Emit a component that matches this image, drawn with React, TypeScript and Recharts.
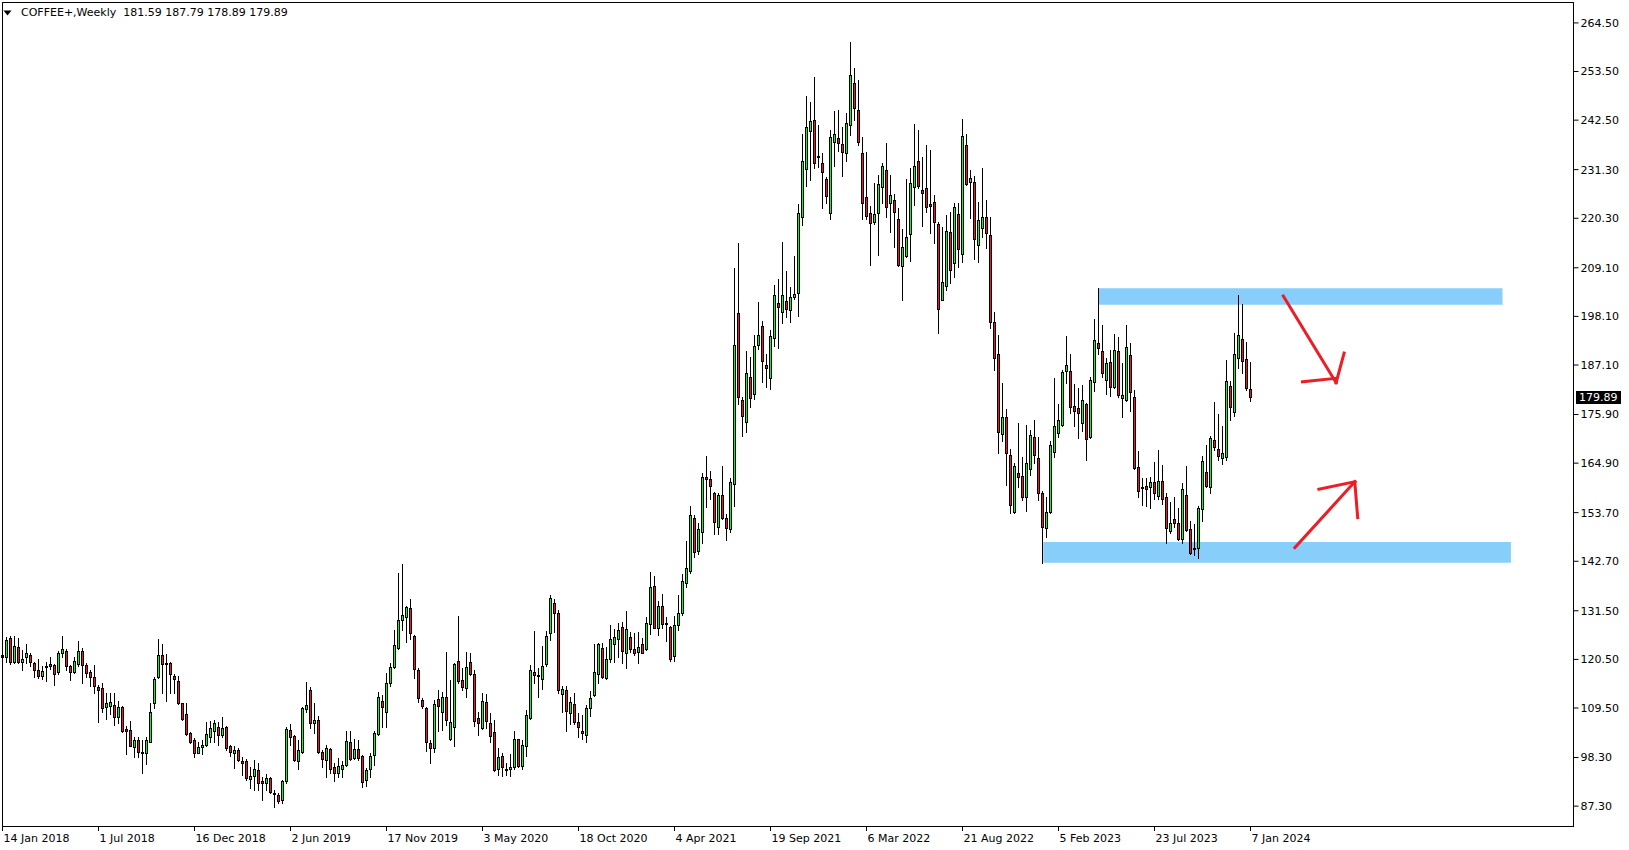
import { ComposedChart, Bar, XAxis, YAxis, ReferenceArea, ReferenceLine } from 'recharts'

const FONT = '"DejaVu Sans", Tahoma, sans-serif'
const GREEN = '#2ee82e'
const RED = '#ec1a1a'

// weekly candles, first one = week of 14 Jan 2018
const opens = [
  121.5, 121.0, 125.3, 120.0, 123.2, 120.0, 121.1, 121.5, 119.6, 118.1,
  116.8, 118.8, 119.4, 119.2, 117.7, 121.9, 122.5, 118.9, 117.7, 119.4,
  122.4, 119.2, 117.6, 116.6, 114.3, 114.0, 109.7, 110.0, 110.2, 107.4,
  109.8, 104.8, 104.6, 100.6, 102.3, 99.6, 99.3, 101.9, 110.6, 116.6,
  121.4, 119.6, 119.6, 116.8, 115.6, 110.6, 108.1, 103.8, 102.3, 99.4,
  100.6, 101.1, 102.9, 104.4, 105.1, 103.3, 105.3, 101.0, 99.4, 100.0,
  97.5, 97.4, 93.4, 94.2, 95.5, 92.9, 92.5, 93.6, 90.2, 89.8,
  88.6, 93.0, 104.5, 103.2, 97.4, 99.6, 109.3, 113.6, 106.2, 106.8,
  99.5, 97.8, 100.2, 96.1, 94.7, 95.6, 96.6, 101.9, 98.1, 100.2,
  98.7, 93.2, 95.6, 98.9, 103.6, 111.1, 108.5, 115.1, 118.7, 123.0,
  129.4, 130.0, 132.1, 125.8, 118.2, 111.3, 109.6, 101.6, 100.4, 111.5,
  108.5, 111.9, 102.5, 105.3, 120.2, 115.8, 114.0, 119.8, 117.3, 107.2,
  104.9, 110.9, 106.2, 104.1, 95.6, 98.7, 95.8, 95.6, 96.1, 102.4,
  96.4, 101.0, 107.3, 117.7, 117.0, 116.1, 119.4, 126.4, 133.2, 131.1,
  112.7, 113.6, 108.3, 110.5, 106.3, 104.3, 103.5, 109.4, 112.4, 117.3,
  123.0, 116.4, 120.5, 123.9, 125.1, 127.9, 121.9, 125.5, 122.8, 122.2,
  124.0, 122.8, 128.5, 137.2, 127.7, 132.6, 128.8, 127.9, 121.3, 128.3,
  130.9, 137.7, 140.6, 152.4, 145.0, 149.3, 161.7, 161.4, 158.1, 150.5,
  157.8, 152.6, 150.0, 160.1, 198.8, 179.2, 174.3, 184.5, 180.5, 191.6,
  195.9, 187.1, 184.2, 193.1, 201.1, 199.0, 201.6, 199.5, 202.6, 203.3,
  220.5, 231.4, 240.1, 242.5, 234.4, 232.7, 229.1, 221.6, 237.6, 238.4,
  237.0, 235.1, 241.3, 250.8, 244.9, 235.0, 225.0, 221.6, 219.5, 221.4,
  227.3, 231.2, 223.7, 224.4, 220.1, 209.6, 211.8, 216.7, 227.4, 233.3,
  226.7, 227.1, 223.5, 223.9, 219.0, 201.8, 205.0, 217.1, 210.1, 221.2,
  212.2, 236.9, 228.4, 228.4, 214.2, 218.0, 220.5, 216.5, 196.9, 189.7,
  171.5, 175.3, 166.7, 153.9, 162.6, 162.0, 157.2, 163.5, 170.9, 166.0,
  158.1, 150.2, 153.9, 167.5, 171.8, 173.5, 185.8, 185.8, 177.8, 177.3,
  174.0, 178.2, 170.9, 183.3, 192.0, 190.2, 183.7, 187.7, 182.2, 190.2,
  179.7, 179.2, 189.4, 179.8, 164.1, 159.6, 159.7, 159.6, 160.6, 157.5,
  160.9, 157.2, 149.6, 152.2, 151.3, 147.7, 157.8, 149.9, 145.8, 145.6,
  154.5, 162.8, 159.4, 170.1, 168.2, 166.0, 166.2, 182.4, 176.4, 188.6,
  192.9, 188.4, 181.59,
]

const highs = [
  123.8, 125.5, 125.7, 125.8, 125.3, 122.6, 124.0, 121.9, 120.0, 120.6,
  118.9, 120.0, 121.0, 119.4, 122.3, 125.8, 122.8, 119.2, 121.1, 124.7,
  123.0, 119.6, 118.1, 119.2, 114.7, 115.2, 112.8, 113.0, 113.0, 111.0,
  110.0, 105.4, 106.6, 103.0, 103.0, 102.3, 103.0, 110.6, 116.6, 125.1,
  123.9, 121.7, 119.8, 117.1, 116.8, 110.6, 110.6, 104.0, 102.7, 101.9,
  102.3, 106.4, 106.6, 106.8, 106.4, 107.4, 105.4, 101.1, 100.8, 100.4,
  98.5, 97.9, 96.1, 97.8, 97.0, 94.0, 94.6, 93.8, 91.0, 90.2,
  93.2, 105.1, 105.8, 103.4, 102.3, 109.8, 115.3, 114.3, 110.6, 107.7,
  100.0, 101.1, 100.4, 97.0, 98.1, 97.4, 104.2, 104.2, 102.4, 102.3,
  98.9, 95.9, 99.3, 104.2, 113.2, 112.5, 117.4, 119.6, 127.2, 140.0,
  142.1, 132.6, 134.1, 126.1, 118.5, 111.7, 109.8, 102.3, 111.3, 113.6,
  113.2, 122.2, 115.8, 119.7, 130.3, 118.5, 122.2, 121.9, 118.1, 108.7,
  112.8, 112.7, 108.3, 106.8, 100.4, 99.4, 97.1, 99.2, 104.3, 102.6,
  102.3, 109.0, 119.2, 127.0, 118.5, 123.5, 127.0, 135.1, 134.1, 131.7,
  114.5, 114.5, 112.1, 113.0, 108.3, 107.9, 110.2, 113.3, 124.0, 124.3,
  124.1, 123.4, 128.3, 127.3, 128.8, 129.0, 131.4, 126.8, 126.4, 126.8,
  125.3, 130.0, 140.2, 139.4, 133.8, 135.3, 130.2, 128.0, 130.3, 135.1,
  139.8, 147.3, 155.2, 153.2, 151.3, 162.6, 166.5, 163.2, 158.4, 158.1,
  164.3, 153.3, 161.6, 209.0, 214.8, 179.9, 190.3, 189.0, 193.9, 201.4,
  197.1, 189.6, 195.0, 205.2, 206.6, 214.9, 208.4, 204.8, 211.8, 223.5,
  239.4, 248.0, 246.7, 252.3, 241.4, 235.1, 229.7, 240.3, 244.6, 244.8,
  241.0, 244.2, 260.1, 254.4, 251.6, 238.6, 235.2, 223.1, 228.2, 230.1,
  232.7, 237.4, 230.1, 225.9, 222.7, 217.8, 229.1, 231.6, 241.6, 240.3,
  234.2, 236.9, 235.7, 225.6, 219.5, 218.4, 221.0, 221.8, 223.7, 223.7,
  242.8, 239.4, 231.2, 229.9, 224.0, 231.6, 224.5, 220.7, 199.2, 193.9,
  183.0, 177.1, 168.0, 165.0, 173.9, 166.2, 173.5, 172.4, 174.7, 170.9,
  158.7, 157.3, 170.0, 184.1, 178.3, 186.0, 193.7, 189.6, 182.9, 181.8,
  182.6, 178.4, 184.5, 197.6, 204.5, 196.2, 188.8, 190.5, 194.1, 193.5,
  187.5, 196.1, 192.0, 181.4, 167.6, 161.5, 161.5, 161.7, 165.2, 167.9,
  164.5, 158.1, 156.0, 157.3, 154.7, 160.3, 164.3, 151.9, 151.1, 155.2,
  166.5, 168.9, 171.1, 178.8, 176.0, 173.2, 188.2, 183.4, 194.3, 202.9,
  200.9, 192.4, 187.79,
]

const lows = [
  119.0, 120.0, 119.5, 119.6, 119.6, 118.1, 119.6, 119.0, 116.6, 116.2,
  116.1, 115.5, 118.3, 114.7, 117.1, 121.1, 118.0, 115.9, 117.5, 119.0,
  115.2, 116.6, 114.5, 113.0, 106.4, 108.5, 107.0, 108.2, 105.7, 106.0,
  104.0, 99.0, 100.8, 98.4, 98.5, 94.7, 96.8, 101.7, 109.4, 116.2,
  112.8, 111.0, 112.8, 112.8, 110.4, 106.8, 103.4, 101.5, 98.4, 99.3,
  99.0, 100.9, 101.9, 101.9, 101.1, 102.9, 100.0, 98.7, 95.9, 97.6,
  94.4, 93.2, 91.3, 91.0, 91.0, 88.7, 91.0, 90.2, 87.2, 88.1,
  88.0, 92.6, 101.1, 97.4, 95.6, 99.3, 108.7, 104.9, 103.9, 99.3,
  96.1, 94.0, 94.7, 92.9, 94.0, 93.8, 96.4, 97.8, 97.9, 97.8,
  91.7, 91.9, 94.0, 96.6, 103.4, 105.3, 105.3, 114.5, 118.5, 122.8,
  127.2, 124.5, 125.1, 116.2, 110.9, 109.4, 99.8, 97.0, 99.6, 104.4,
  104.5, 105.6, 102.3, 100.9, 115.2, 113.6, 112.1, 117.0, 105.4, 103.4,
  104.7, 104.9, 101.9, 95.3, 94.3, 94.1, 94.3, 94.1, 95.8, 96.1,
  95.8, 98.6, 107.0, 115.2, 111.9, 113.7, 119.0, 125.0, 126.8, 113.0,
  108.7, 104.4, 105.8, 105.9, 102.9, 102.6, 101.7, 107.7, 112.2, 115.2,
  116.4, 116.0, 120.0, 120.0, 121.1, 119.7, 118.5, 122.2, 121.5, 119.7,
  121.9, 122.6, 126.2, 127.5, 126.0, 127.7, 124.7, 120.2, 120.2, 127.1,
  130.5, 136.8, 140.0, 143.6, 144.3, 146.9, 154.9, 156.9, 148.8, 148.8,
  152.2, 147.4, 149.4, 155.3, 178.3, 171.1, 171.9, 177.7, 179.4, 190.7,
  183.3, 182.2, 181.6, 191.5, 190.9, 196.5, 198.0, 196.9, 202.0, 198.3,
  218.8, 227.7, 229.0, 231.6, 231.8, 222.7, 223.8, 220.1, 232.1, 235.6,
  229.9, 233.3, 239.1, 242.5, 236.9, 220.1, 220.1, 209.7, 219.0, 212.0,
  223.8, 220.7, 217.3, 213.9, 209.6, 201.8, 211.5, 210.7, 223.3, 227.1,
  218.5, 221.8, 216.9, 214.8, 194.3, 201.7, 204.1, 205.6, 207.1, 209.2,
  210.5, 227.8, 220.3, 211.0, 210.5, 216.0, 213.5, 195.4, 186.0, 167.3,
  169.8, 159.9, 153.7, 153.7, 159.6, 156.6, 154.1, 162.2, 164.9, 156.6,
  142.4, 148.1, 153.7, 166.4, 170.9, 173.3, 183.0, 176.3, 173.3, 170.7,
  172.2, 165.7, 170.7, 181.3, 189.6, 184.3, 180.5, 180.1, 181.8, 179.9,
  175.3, 179.0, 176.8, 163.5, 157.3, 155.4, 155.1, 154.7, 156.7, 156.9,
  155.7, 146.8, 149.2, 150.5, 147.5, 146.9, 149.6, 144.3, 144.1, 143.4,
  151.7, 159.6, 158.2, 167.9, 165.5, 164.7, 165.5, 174.7, 175.6, 186.5,
  185.2, 181.4, 178.89,
]

const closes = [
  121.0, 125.0, 119.8, 123.5, 119.8, 120.6, 121.9, 120.0, 118.0, 116.8,
  117.9, 119.1, 119.1, 117.1, 121.9, 122.8, 118.9, 117.7, 120.2, 122.4,
  119.2, 117.4, 116.6, 114.5, 113.6, 109.6, 110.6, 110.8, 107.4, 109.8,
  104.2, 104.4, 101.0, 102.3, 99.6, 99.4, 102.3, 108.7, 116.1, 121.4,
  119.4, 119.4, 117.1, 116.0, 110.6, 107.0, 103.6, 101.7, 99.3, 100.6,
  101.1, 103.6, 104.9, 106.0, 103.3, 104.9, 100.5, 99.6, 100.0, 97.8,
  97.1, 93.6, 94.1, 95.7, 92.5, 92.5, 93.6, 90.4, 90.0, 88.5,
  93.0, 104.7, 103.0, 97.8, 100.0, 109.6, 110.2, 106.2, 106.8, 99.5,
  98.0, 100.4, 95.7, 94.7, 96.4, 96.6, 102.1, 97.9, 100.2, 98.1,
  92.8, 95.5, 98.7, 103.8, 112.1, 109.8, 115.1, 118.7, 123.8, 129.4,
  130.6, 132.4, 126.4, 118.3, 111.7, 110.0, 101.9, 100.4, 110.5, 110.0,
  111.9, 106.8, 106.3, 119.4, 115.7, 114.2, 118.8, 117.1, 106.6, 106.0,
  111.1, 106.6, 103.2, 95.5, 98.5, 96.2, 95.6, 96.2, 102.6, 96.4,
  101.1, 107.9, 118.2, 117.0, 116.7, 119.1, 125.9, 134.3, 130.9, 113.6,
  113.9, 108.9, 110.8, 106.4, 105.1, 103.9, 109.4, 111.7, 117.6, 123.9,
  116.6, 120.7, 125.1, 125.6, 127.1, 122.5, 127.3, 122.8, 122.0, 123.4,
  122.0, 128.8, 136.9, 127.7, 132.6, 128.4, 128.5, 120.5, 128.3, 131.1,
  138.3, 141.1, 153.2, 144.7, 149.9, 161.7, 161.2, 159.7, 151.5, 157.7,
  152.6, 150.2, 160.7, 191.6, 179.9, 175.6, 185.4, 179.7, 191.4, 194.0,
  187.9, 186.4, 193.7, 202.9, 200.3, 202.9, 199.7, 202.6, 203.2, 221.4,
  233.2, 240.9, 242.2, 232.7, 234.1, 230.8, 225.4, 238.6, 239.3, 237.3,
  235.4, 241.8, 252.7, 245.2, 237.6, 223.8, 220.9, 219.2, 221.2, 228.0,
  232.1, 222.9, 225.6, 221.8, 209.7, 213.7, 216.1, 228.2, 232.1, 227.6,
  226.1, 222.9, 223.1, 219.5, 199.7, 205.8, 217.4, 208.7, 222.9, 213.3,
  238.9, 228.0, 229.3, 215.5, 219.9, 220.7, 216.9, 196.9, 188.6, 172.0,
  175.3, 167.1, 155.4, 164.2, 161.7, 157.3, 164.9, 171.3, 166.7, 158.1,
  150.4, 153.8, 169.0, 173.3, 174.6, 185.6, 187.1, 177.7, 176.8, 176.3,
  179.2, 170.3, 183.8, 192.8, 191.0, 185.4, 187.5, 182.1, 190.5, 180.3,
  180.3, 191.1, 180.9, 163.7, 158.7, 159.3, 159.1, 160.6, 158.1, 160.9,
  156.7, 150.2, 151.4, 151.3, 147.7, 159.0, 149.8, 144.6, 145.4, 154.7,
  165.4, 159.8, 170.5, 168.6, 166.6, 167.3, 183.5, 177.5, 189.5, 193.9,
  187.9, 181.8, 179.89,
]

const dateTickWeeks = [0, 24, 48, 72, 96, 120, 144, 168, 192, 216, 240, 264, 288, 312]
const dateTickLabels = [
  '14 Jan 2018', '1 Jul 2018', '16 Dec 2018', '2 Jun 2019', '17 Nov 2019', '3 May 2020', '18 Oct 2020',
  '4 Apr 2021', '19 Sep 2021', '6 Mar 2022', '21 Aug 2022', '5 Feb 2023', '23 Jul 2023', '7 Jan 2024',
]
const priceTicks = [264.5, 253.5, 242.5, 231.3, 220.3, 209.1, 198.1, 187.1, 175.9, 164.9, 153.7, 142.7, 131.5, 120.5, 109.5, 98.3, 87.3]

const symbolName = 'COFFEE+,Weekly'

// supply / demand zones (week index, price)
const zoneFrom = [274, 260.2]
const zoneTo = [375, 377.1]
const zoneBottom = [200.74, 142.37]
const zoneTop = [204.45, 147.06]

// hand drawn arrows, one stroke per entry: [week1, price1, week2, price2]
const arrowStrokes = [
  [320.2, 202.7, 333.4, 183.1],
  [325.0, 183.3, 333.4, 184.1],
  [333.4, 183.1, 335.4, 189.8],
  [323.1, 145.8, 338.1, 160.7],
  [329.1, 159.0, 338.1, 160.7],
  [338.1, 160.3, 338.8, 152.6],
]

const candles = opens.map((o, i) => ({
  i,
  o,
  h: highs[i],
  l: lows[i],
  c: closes[i],
  range: [lows[i], highs[i]],
}))

const last = candles[candles.length - 1]

const Candle = (props: any) => {
  const { x, y, width, height } = props
  const d = props.payload ?? props
  if (d == null || y == null || height == null) return null
  const top = Math.min(y, y + height)
  const span = Math.abs(height)
  const hl = d.h - d.l
  const py = (v: number) => (hl > 0 ? top + ((d.h - v) / hl) * span : top)
  const col = Math.floor(x + width / 2)
  const bt = Math.round(py(Math.max(d.o, d.c)))
  const bb = Math.round(py(Math.min(d.o, d.c)))
  return (
    <g shapeRendering="crispEdges">
      <line x1={col + 0.5} x2={col + 0.5} y1={Math.round(py(d.h))} y2={Math.round(py(d.l)) + 1} stroke="#000" strokeWidth={1} />
      <rect
        x={col - 0.5}
        y={bt + 0.5}
        width={2}
        height={Math.max(bb - bt, 1)}
        fill={d.c >= d.o ? GREEN : RED}
        stroke="#000"
        strokeWidth={1}
      />
    </g>
  )
}

const DateTick = ({ x, y, payload }: any) => (
  <text x={x + 1} y={y} dy="0.71em" textAnchor="start" fontSize={11} fontFamily={FONT} fill="#000">
    {dateTickLabels[dateTickWeeks.indexOf(payload.value)]}
  </text>
)

const PriceTag = ({ viewBox }: any) => {
  if (!viewBox) return null
  const left = viewBox.x + viewBox.width + 2.5
  const cy = Math.round(viewBox.y)
  return (
    <g>
      <rect x={left} y={cy - 6} width={45} height={13} fill="#000" />
      <text x={left + 3} y={cy + 4} fill="#fff" fontSize={11} fontFamily={FONT}>
        {last.c.toFixed(2)}
      </text>
    </g>
  )
}

export default function App() {
  return (
    <div style={{ position: 'absolute', left: 0, top: 0, width: 1629, height: 850, background: '#fff', fontFamily: FONT }}>
      <ComposedChart width={1629} height={850} data={candles} margin={{ top: 2, right: 0.5, bottom: 0, left: 0.5 }}>
        <XAxis
          dataKey="i"
          type="number"
          domain={[-0.5, 392.75]}
          allowDataOverflow
          ticks={dateTickWeeks}
          interval={0}
          tick={<DateTick />}
          tickLine={{ stroke: '#000' }}
          tickSize={4}
          tickMargin={3}
          axisLine={false}
          height={23}
        />
        <YAxis
          orientation="right"
          type="number"
          domain={[82.58, 269.23]}
          allowDataOverflow
          ticks={priceTicks}
          interval={0}
          width={55}
          tickSize={5}
          tickMargin={2}
          axisLine={false}
          tickLine={{ stroke: '#000' }}
          tick={{ fill: '#000', fontSize: 11, fontFamily: FONT }}
          tickFormatter={(v: number) => v.toFixed(2)}
        />
        {zoneFrom.map((x1, k) => (
          <ReferenceArea
            key={`zone${k}`}
            x1={x1}
            x2={zoneTo[k]}
            y1={zoneBottom[k]}
            y2={zoneTop[k]}
            fill="#87cefa"
            fillOpacity={1}
            stroke="none"
          />
        ))}
        <Bar dataKey="range" barSize={3} shape={<Candle />} isAnimationActive={false} />
        {arrowStrokes.map(([x1, y1, x2, y2], k) => (
          <ReferenceLine
            key={`arrow${k}`}
            segment={[{ x: x1, y: y1 }, { x: x2, y: y2 }]}
            stroke="#ee1c24"
            strokeWidth={3}
            strokeLinecap="square"
          />
        ))}
        <ReferenceLine y={last.c} stroke="none" label={<PriceTag />} />
      </ComposedChart>
      <div
        style={{
          position: 'absolute',
          left: 2,
          top: 2,
          width: 1572,
          height: 825,
          border: '1px solid #000',
          boxSizing: 'border-box',
          pointerEvents: 'none',
        }}
      />
      <svg style={{ position: 'absolute', left: 3, top: 10 }} width={9} height={7}>
        <polygon points="0.5,0.5 8.5,0.5 4.5,5.5" fill="#000" />
      </svg>
      <div style={{ position: 'absolute', left: 21, top: 6, fontSize: 11, lineHeight: '13px', color: '#000', whiteSpace: 'pre' }}>
        {`${symbolName}  ${last.o.toFixed(2)} ${last.h.toFixed(2)} ${last.l.toFixed(2)} ${last.c.toFixed(2)}`}
      </div>
    </div>
  )
}
